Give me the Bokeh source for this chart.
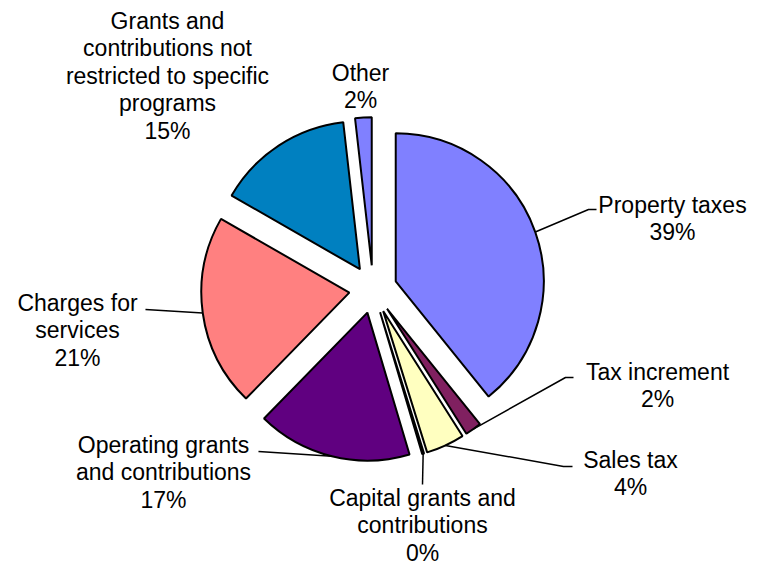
import numpy as np
from bokeh.plotting import figure
from bokeh.models import Range1d, ColumnDataSource
from bokeh.core.properties import value
from bokeh.embed import file_html
from bokeh.resources import INLINE

# ---- data ----
categories = ["Property taxes", "Tax increment", "Sales tax",
              "Capital grants and contributions", "Operating grants and contributions",
              "Charges for services", "Grants and contributions not restricted to specific programs",
              "Other"]
shares = [39.2, 1.8, 4.2, 0.2, 16.9, 21.0, 14.9, 1.8]
label_lines = [["Property taxes"], ["Tax increment"], ["Sales tax"],
               ["Capital grants and", "contributions"],
               ["Operating grants", "and contributions"],
               ["Charges for", "services"],
               ["Grants and", "contributions not", "restricted to specific", "programs"],
               ["Other"]]
colors = ["#8080FF", "#802060", "#FFFFC0", "#A0E0E0", "#600080", "#FF8080", "#0080C0", "#8080FF"]

# ---- layout (screen pixel coordinates of the picture) ----
W, H = 750, 567            # figure size in px
SCREEN_H = 567
CX, CY = 372.6, 288.8      # pie centre
R = 148                    # radius
EXPLODE = 24               # explosion distance
LINE_STEP = 27.5
label_x = [672, 657, 630, 422, 163, 77, 167, 360]
label_y0 = [204, 371, 459, 497, 444, 302, 20, 72]
leader_pts = [[(588, 209), (596, 209)],
              [(565, 377), (573, 377)],
              [(563, 466), (572, 466)],
              [(422, 484)],
              [(258, 451)],
              [(145, 309)],
              None, None]

def sy(y):
    return SCREEN_H - y

vals = np.array(shares, dtype=float)
frac = vals / vals.sum()
cum = np.concatenate([[0.0], np.cumsum(frac)])
# clockwise from 12 o'clock
a_start = np.pi / 2 - 2 * np.pi * cum[1:]   # lower angle
a_end = np.pi / 2 - 2 * np.pi * cum[:-1]    # higher angle
a_mid = (a_start + a_end) / 2
vx = CX + EXPLODE * np.cos(a_mid)
vy = sy(CY) + EXPLODE * np.sin(a_mid)

p = figure(width=W, height=H, output_backend="svg", toolbar_location=None,
           x_range=Range1d(0, W), y_range=Range1d(SCREEN_H - H, SCREEN_H),
           min_border=0, outline_line_color=None)
p.axis.visible = False
p.grid.visible = False
p.background_fill_color = "white"
p.border_fill_color = "white"

src = ColumnDataSource(dict(x=vx, y=vy, s=a_start, e=a_end, c=colors))
p.wedge(x="x", y="y", radius=R, start_angle="s", end_angle="e", direction="anticlock",
        fill_color="c", line_color="black", line_width=2, source=src)

# labels
tx, ty, tt = [], [], []
for i, lines in enumerate(label_lines):
    pct = f"{int(round(shares[i]))}%"
    allines = lines + [pct]
    for k, ln in enumerate(allines):
        tx.append(label_x[i])
        ty.append(sy(label_y0[i] + k * LINE_STEP))
        tt.append(ln)
p.text(x=tx, y=ty, text=tt, text_align="center", text_baseline="middle",
       text_font=value("Liberation Sans"), text_font_size="23px", text_color="black")

# leader lines
for i, pts in enumerate(leader_pts):
    if pts is None:
        continue
    xs = [vx[i] + R * np.cos(a_mid[i])] + [q[0] for q in pts]
    ys = [vy[i] + R * np.sin(a_mid[i])] + [sy(q[1]) for q in pts]
    p.line(xs, ys, line_color="black", line_width=1.5)

open("out.html", "w").write(file_html(p, INLINE))
